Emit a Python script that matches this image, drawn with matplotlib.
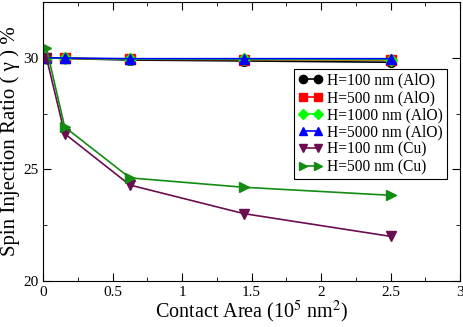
import numpy as np
import matplotlib
matplotlib.use("Agg")
import matplotlib.pyplot as plt
from matplotlib.ticker import MultipleLocator

plt.rcParams['font.family'] = ['Liberation Serif', 'DejaVu Serif']
plt.rcParams['mathtext.fontset'] = 'stix'

## contact area (10^5 nm^2)
area = [0.025, 0.156, 0.625, 1.444, 2.5]

## spin injection ratio (%)
h100_alo = [30.0, 29.97, 29.9, 29.86, 29.8]
h500_alo = [30.0, 29.98, 29.93, 29.92, 29.9]
h1000_alo = [30.0, 29.98, 29.94, 29.93, 29.92]
h5000_alo = [30.0, 29.99, 29.96, 29.96, 29.96]
h100_cu = [30.0, 26.6, 24.3, 23.02, 22.0]
h500_cu = [30.42, 26.9, 24.62, 24.2, 23.84]

labels = ['H=100 nm (AlO)', 'H=500 nm (AlO)', 'H=1000 nm (AlO)',
          'H=5000 nm (AlO)', 'H=100 nm (Cu)', 'H=500 nm (Cu)']
series = [h100_alo, h500_alo, h1000_alo, h5000_alo, h100_cu, h500_cu]
colors = ['black', '#ff0000', '#00ff00', '#0000ff', '#6b0d4f', '#128c12']
markers = ['o', 's', 'D', '^', 'v', '>']
msizes = [7, 7, 6, 7, 7, 7]

fig = plt.figure(figsize=(4.63, 3.27), dpi=100)
ax = fig.add_axes([43/463, 46/327, 417/463, 279/327])

for vals, lab, c, m, ms in zip(series, labels, colors, markers, msizes):
    ax.plot(area, vals, color=c, marker=m, markersize=ms, lw=1.2, label=lab)

ax.set_xlim(0, 3)
ax.set_ylim(20, 32.5)
ax.xaxis.set_major_locator(MultipleLocator(0.5))
ax.xaxis.set_minor_locator(MultipleLocator(0.25))
ax.yaxis.set_major_locator(MultipleLocator(5))
ax.yaxis.set_minor_locator(MultipleLocator(2.5))
ax.set_xticks([0, 0.5, 1, 1.5, 2, 2.5, 3])
ax.set_xticklabels(['0', '0.5', '1', '1.5', '2', '2.5', '3'])
ax.tick_params(which='both', direction='in', top=True, right=True, labelsize=11)
ax.tick_params(which='major', length=6)
ax.tick_params(which='minor', length=3)

ax.set_xlabel('Contact Area (10$^5$ nm$^2$)', fontsize=14.5, labelpad=0)
ax.set_ylabel('Spin Injection Ratio ( \u03b3 ) %', fontsize=15, labelpad=2)

leg = ax.legend(loc='upper right', bbox_to_anchor=(0.969, 0.76), numpoints=2,
                fontsize=11.2, fancybox=False, framealpha=1, edgecolor='black',
                handlelength=1.6, handletextpad=0.3, borderpad=0.25,
                labelspacing=0.08, borderaxespad=0, markerscale=0.85)
leg.get_frame().set_linewidth(0.8)

fig.savefig('out.png', dpi=100)
